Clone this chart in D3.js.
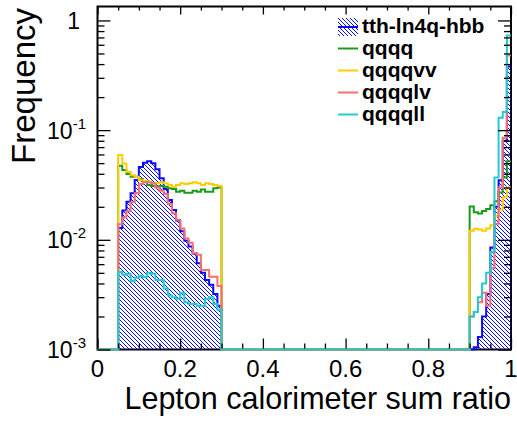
<!DOCTYPE html>
<html>
<head>
<meta charset="utf-8">
<script src="https://cdn.jsdelivr.net/npm/d3@7"></script>
<style>
  body { margin: 0; background: #fff; }
  svg { display: block; }
  text { font-family: "Liberation Sans", Arial, Helvetica, sans-serif; fill: #000; }
</style>
</head>
<body>
<svg id="chart" width="517" height="424"></svg>
<script>
// Histogram binning: 100 bins of 0.01 over [0, 1]; only two ranges are populated.
const binWidth = 0.01;
const nBins = 100;
const lowStart = 0.05;   // first populated bin of the low range
const highStart = 0.90;  // first populated bin of the high range

const seriesNames = ["tth-ln4q-hbb", "qqqq", "qqqqvv", "qqqqlv", "qqqqll"];
const seriesColors = ["#0a0aff", "#1a9a1a", "#ffcc00", "#fa6e6e", "#22cccc"];

// Normalised frequencies, 0.05–0.30
const signalLow = [0.0128, 0.0185, 0.0222, 0.0266, 0.0351, 0.0460, 0.0505, 0.0520, 0.0500, 0.0440,
                   0.0364, 0.0290, 0.0231, 0.0187, 0.0150, 0.0120, 0.0098, 0.0087, 0.0075, 0.0061,
                   0.0050, 0.0043, 0.0039, 0.0032, 0.0025];
const qqqqLow   = [0.0474, 0.0433, 0.0398, 0.0375, 0.0375, 0.0356, 0.0340, 0.0316, 0.0310, 0.0305,
                   0.0310, 0.0305, 0.0295, 0.0290, 0.0275, 0.0280, 0.0268, 0.0268, 0.0280, 0.0275,
                   0.0287, 0.0275, 0.0275, 0.0295, 0.0300];
const qqqqvvLow = [0.0593, 0.0496, 0.0416, 0.0387, 0.0375, 0.0350, 0.0345, 0.0340, 0.0328, 0.0328,
                   0.0335, 0.0328, 0.0316, 0.0305, 0.0316, 0.0328, 0.0322, 0.0328, 0.0335, 0.0328,
                   0.0316, 0.0328, 0.0322, 0.0316, 0.0310];
const qqqqlvLow = [0.0139, 0.0160, 0.0182, 0.0220, 0.0266, 0.0322, 0.0335, 0.0335, 0.0328, 0.0300,
                   0.0280, 0.0262, 0.0212, 0.0175, 0.0152, 0.0127, 0.0103, 0.0094, 0.0076, 0.0073,
                   0.0053, 0.0053, 0.0046, 0.0046, 0.0038];
const qqqqllLow = [0.0051, 0.0048, 0.0049, 0.0042, 0.0045, 0.0047, 0.0046, 0.0050, 0.0049, 0.0043,
                   0.0043, 0.0036, 0.0031, 0.0030, 0.0029, 0.0033, 0.0027, 0.0026, 0.0026, 0.0025,
                   0.0025, 0.0029, 0.0030, 0.0026, 0.0023];

// Normalised frequencies, 0.90–1.00
const signalHigh = [0, 0.00105, 0.0013, 0.0020, 0.0032, 0.0085, 0.020, 0.035, 0.080, 0.38];
const qqqqHigh   = [0.0201, 0.0178, 0.0174, 0.0183, 0.0191, 0.0207, 0.0225, 0.027, 0.037, 0.052];
const qqqqvvHigh = [0.0121, 0.0126, 0.0124, 0.0121, 0.0127, 0.0136, 0.0165, 0.0188, 0.0245, 0.030];
const qqqqlvHigh = [0.0020, 0.0022, 0.0027, 0.0033, 0.0025, 0.0055, 0.014, 0.030, 0.085, 0.48];
const qqqqllHigh = [0.0020, 0.0022, 0.0030, 0.0040, 0.0050, 0.0078, 0.037, 0.130, 0.146, 0.73];

const xTickValues = [0, 0.2, 0.4, 0.6, 0.8, 1];
const xTickLabels = ["0", "0.2", "0.4", "0.6", "0.8", "1"];
const yTickValues = [1e-3, 1e-2, 1e-1, 1];
const yTickBases = ["10", "10", "10", "1"];
const yTickExps = ["-3", "-2", "-1", ""];

const xTitle = "Lepton calorimeter sum ratio";
const yTitle = "Frequency";

// Expand the two populated ranges into full 100-bin histograms.
function fullHist(low, high) {
  const h = new Array(nBins).fill(0);
  const i0 = Math.round(lowStart / binWidth), j0 = Math.round(highStart / binWidth);
  low.forEach((v, k) => { h[i0 + k] = v; });
  high.forEach((v, k) => { h[j0 + k] = v; });
  return h;
}
const hists = [
  fullHist(signalLow, signalHigh),
  fullHist(qqqqLow, qqqqHigh),
  fullHist(qqqqvvLow, qqqqvvHigh),
  fullHist(qqqqlvLow, qqqqlvHigh),
  fullHist(qqqqllLow, qqqqllHigh)
];

const svg = d3.select("#chart");
const frameL = 97.5, frameR = 511, frameT = 6.5, frameB = 349.5;
const yMin = 1e-3, yMax = 1.34;

const x = d3.scaleLinear().domain([0, 1]).range([frameL, frameR]);
const y = d3.scaleLog().domain([yMin, yMax]).range([frameB, frameT]);

const defs = svg.append("defs");
defs.append("clipPath").attr("id", "frameClip")
  .append("rect").attr("x", frameL).attr("y", frameT)
  .attr("width", frameR - frameL).attr("height", frameB - frameT + 1.5);
const hatch = defs.append("pattern").attr("id", "hatch")
  .attr("patternUnits", "userSpaceOnUse").attr("width", 4).attr("height", 4);
hatch.append("path").attr("d", "M-1,-1L5,5M-1,3L1,5M3,-1L5,1")
  .attr("stroke", seriesColors[0]).attr("stroke-width", 1).attr("fill", "none");

// Frame
svg.append("rect").attr("x", frameL).attr("y", frameT).attr("width", frameR - frameL).attr("height", frameB - frameT)
  .attr("fill", "none").attr("stroke", "#000").attr("stroke-width", 2);

// Step outline of a histogram (empty bins sit on the lower edge)
const yv = v => y(Math.max(v, yMin));
function stepPoints(h) {
  const pts = [];
  h.forEach((v, i) => {
    pts.push([x(i * binWidth), yv(v)]);
    pts.push([x((i + 1) * binWidth), yv(v)]);
  });
  return pts;
}
const line = d3.line();
const area = d3.area().x(d => d[0]).y0(y(yMin)).y1(d => d[1]);

const plot = svg.append("g").attr("clip-path", "url(#frameClip)");

// Signal: hatched fill + outline
const sigPts = stepPoints(hists[0]);
plot.append("path").attr("d", area(sigPts))
  .attr("fill", "url(#hatch)").attr("stroke", "none");
plot.append("path").attr("d", line(sigPts))
  .attr("fill", "none").attr("stroke", seriesColors[0]).attr("stroke-width", 2);

// Backgrounds drawn as outlines in order
for (let s = 1; s < hists.length; s++) {
  plot.append("path").attr("d", line(stepPoints(hists[s])))
    .attr("fill", "none").attr("stroke", seriesColors[s]).attr("stroke-width", 2)
    .attr("stroke-linejoin", "miter");
}

// Tick marks on all four sides, pointing inwards
const xMinor = d3.range(0, 1.0001, 0.05).filter(v => !xTickValues.some(t => Math.abs(t - v) < 1e-9));
const yMinor = [];
[1e-3, 1e-2, 1e-1].forEach(d => { for (let k = 2; k <= 9; k++) yMinor.push(d * k); });

function ticks(axisGen, values, size, transform) {
  const g = svg.append("g").attr("transform", transform)
    .call(axisGen.tickValues(values).tickSize(-size).tickFormat(""));
  g.select(".domain").remove();
  g.selectAll(".tick line").attr("stroke", "#000").attr("stroke-width", 1.3);
  return g;
}
ticks(d3.axisBottom(x), xTickValues, 10, `translate(0,${frameB - 1})`);
ticks(d3.axisBottom(x), xMinor, 5, `translate(0,${frameB - 1})`);
ticks(d3.axisTop(x), xTickValues, 8, `translate(0,${frameT})`);
ticks(d3.axisTop(x), xMinor, 4, `translate(0,${frameT})`);
ticks(d3.axisLeft(y), yTickValues, 13, `translate(${frameL},0)`);
ticks(d3.axisLeft(y), yMinor, 7, `translate(${frameL},0)`);
ticks(d3.axisRight(y), yTickValues, 13, `translate(${frameR},0)`);
ticks(d3.axisRight(y), yMinor, 7, `translate(${frameR},0)`);

// X tick labels
svg.append("g").selectAll("text").data(xTickValues).join("text")
  .attr("x", d => x(d)).attr("y", 377)
  .attr("text-anchor", "middle").attr("font-size", 24)
  .text((d, i) => xTickLabels[i]);

// Y tick labels with superscript exponents
const yl = svg.append("g").selectAll("text").data(yTickValues).join("text")
  .attr("x", (d, i) => yTickExps[i] ? 86 : 80)
  .attr("y", d => y(d) + 8.5)
  .attr("text-anchor", "end").attr("font-size", 23);
yl.each(function (d, i) {
  const t = d3.select(this);
  t.append("tspan").text(yTickBases[i]);
  if (yTickExps[i]) {
    t.append("tspan").attr("font-size", 15).attr("dy", -10).text(yTickExps[i]);
  }
});

// Axis titles
svg.append("text").attr("x", frameR).attr("y", 409)
  .attr("text-anchor", "end").attr("font-size", 30.5).text(xTitle);
svg.append("text").attr("transform", `translate(35,8) rotate(-90)`)
  .attr("text-anchor", "end").attr("font-size", 33).text(yTitle);

// Legend
const legendBaselines = [33, 55, 77, 99, 121];
const lg = svg.append("g");
seriesNames.forEach((name, i) => {
  const b = legendBaselines[i];
  if (i === 0) {
    lg.append("rect").attr("x", 338).attr("y", 18).attr("width", 20).attr("height", 18)
      .attr("fill", "url(#hatch)");
    lg.append("line").attr("x1", 338).attr("x2", 358).attr("y1", 27).attr("y2", 27)
      .attr("stroke", seriesColors[0]).attr("stroke-width", 2);
  } else {
    lg.append("line").attr("x1", 338).attr("x2", 358).attr("y1", b - 6.5).attr("y2", b - 6.5)
      .attr("stroke", seriesColors[i]).attr("stroke-width", 2);
  }
  lg.append("text").attr("x", 362).attr("y", b)
    .attr("font-size", 21).attr("font-weight", "bold").text(name);
});
</script>
</body>
</html>
